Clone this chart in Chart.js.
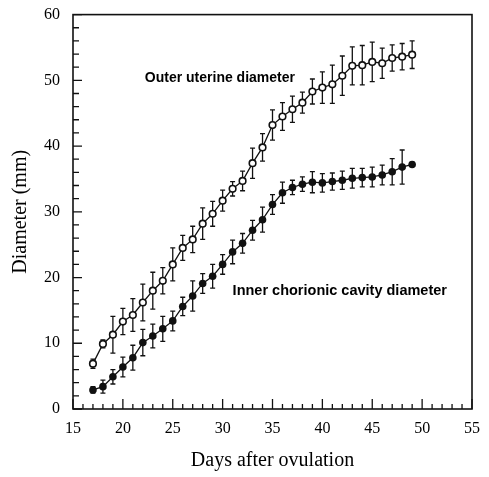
<!DOCTYPE html>
<html>
<head>
<meta charset="utf-8">
<script src="https://cdn.jsdelivr.net/npm/chart.js@4/dist/chart.umd.min.js"></script>
<style>
  html, body { margin: 0; padding: 0; background: #fff; }
  #wrap { width: 489px; height: 477px; position: relative; }
</style>
</head>
<body>
<div id="wrap"><canvas id="chart"></canvas></div>
<script>
// --- Data ---
const days = [17, 18, 19, 20, 21, 22, 23, 24, 25, 26, 27, 28, 29, 30, 31, 32, 33,
              34, 35, 36, 37, 38, 39, 40, 41, 42, 43, 44, 45, 46, 47, 48, 49];
const outerMean = [6.9, 9.9, 11.3, 13.3, 14.3, 16.2, 18.0, 19.5, 22.0, 24.5, 25.8, 28.2, 29.7, 31.7, 33.5, 34.7, 37.4,
                   39.8, 43.2, 44.5, 45.6, 46.6, 48.3, 48.9, 49.4, 50.7, 52.2, 52.3, 52.8, 52.6, 53.4, 53.6, 53.9];
const outerErr = [0.7, 0.6, 2.8, 2.0, 2.5, 2.8, 2.8, 2.0, 2.5, 1.9, 2.0, 2.4, 1.9, 1.6, 1.1, 1.5, 2.3,
                  2.1, 2.3, 2.1, 2.0, 1.6, 1.9, 2.4, 2.9, 3.0, 2.9, 3.0, 3.0, 2.3, 2.0, 2.0, 2.1];
const innerMean = [2.9, 3.4, 4.9, 6.4, 7.8, 10.1, 11.1, 12.2, 13.4, 15.6, 17.2, 19.1, 20.2, 22.0, 23.9, 25.2, 27.2,
                   28.8, 31.1, 32.9, 33.7, 34.2, 34.5, 34.4, 34.6, 34.8, 35.1, 35.2, 35.3, 35.6, 36.1, 36.8, 37.2];
const innerErr = [0.5, 1.0, 1.1, 1.5, 1.9, 2.0, 1.8, 1.9, 1.5, 1.4, 2.3, 1.5, 1.8, 1.5, 1.8, 1.5, 1.5,
                  1.9, 1.5, 1.6, 1.1, 1.1, 1.6, 1.4, 1.3, 1.4, 1.5, 1.4, 1.5, 1.5, 2.0, 2.6, 0.3];
const xTicks = [15, 20, 25, 30, 35, 40, 45, 50, 55];
const yTicks = [0, 10, 20, 30, 40, 50, 60];

const SERIF = '"Liberation Serif", "DejaVu Serif", serif';
const SANS = '"Liberation Sans", Arial, sans-serif';

// --- Plugin: error bars, inward ticks, frame, curve labels ---
const figurePlugin = {
    id: 'figure',
    beforeDatasetsDraw(chart) {
        const ctx = chart.ctx;
        const x = chart.scales.x, y = chart.scales.y;
        ctx.save();
        ctx.strokeStyle = '#111';
        ctx.lineWidth = 1.3;
        [[outerMean, outerErr], [innerMean, innerErr]].forEach(([mean, err]) => {
            days.forEach((d, i) => {
                const px = x.getPixelForValue(d);
                const top = y.getPixelForValue(mean[i] + err[i]);
                const bot = y.getPixelForValue(mean[i] - err[i]);
                ctx.beginPath();
                ctx.moveTo(px, top); ctx.lineTo(px, bot);
                ctx.moveTo(px - 2.5, top); ctx.lineTo(px + 2.5, top);
                ctx.moveTo(px - 2.5, bot); ctx.lineTo(px + 2.5, bot);
                ctx.stroke();
            });
        });
        ctx.restore();
    },
    afterDraw(chart) {
        const ctx = chart.ctx;
        const a = chart.chartArea;
        const x = chart.scales.x, y = chart.scales.y;
        ctx.save();
        ctx.strokeStyle = '#111';
        ctx.lineWidth = 1.6;
        ctx.strokeRect(a.left, a.top, a.right - a.left, a.bottom - a.top);
        ctx.lineWidth = 1.3;
        ctx.beginPath();
        for (let d = 15; d <= 55; d++) {
            const px = x.getPixelForValue(d);
            const len = d % 5 === 0 ? 10 : 5;
            ctx.moveTo(px, a.bottom); ctx.lineTo(px, a.bottom - len);
        }
        for (let v = 0; v <= 60; v += 2) {
            const py = y.getPixelForValue(v);
            const len = v % 10 === 0 ? 9 : 6;
            ctx.moveTo(a.left, py); ctx.lineTo(a.left + len, py);
        }
        ctx.stroke();

        ctx.fillStyle = '#000';
        ctx.font = 'bold 14px ' + SANS;
        ctx.textBaseline = 'middle';
        ctx.textAlign = 'left';
        ctx.fillText('Outer uterine diameter', x.getPixelForValue(22.2), y.getPixelForValue(50.4));
        ctx.font = 'bold 14.5px ' + SANS;
        ctx.fillText('Inner chorionic cavity diameter', x.getPixelForValue(31.0), y.getPixelForValue(18.0));
        ctx.restore();
    }
};

const ctx = document.getElementById('chart').getContext('2d');
new Chart(ctx, {
    type: 'line',
    data: {
        datasets: [{
            label: 'Outer uterine diameter',
            data: days.map((d, i) => ({ x: d, y: outerMean[i] })),
            borderColor: '#111',
            borderWidth: 1.3,
            pointRadius: 3.3,
            pointBorderWidth: 1.6,
            pointBackgroundColor: '#fff',
            pointBorderColor: '#111',
            tension: 0
        }, {
            label: 'Inner chorionic cavity diameter',
            data: days.map((d, i) => ({ x: d, y: innerMean[i] })),
            borderColor: '#111',
            borderWidth: 1.3,
            pointRadius: 3.8,
            pointBorderWidth: 0,
            pointBackgroundColor: '#111',
            tension: 0
        }]
    },
    options: {
        responsive: true,
        maintainAspectRatio: false,
        animation: false,
        layout: { padding: { left: 0, right: 17, top: 12, bottom: 0 } },
        plugins: { legend: { display: false }, tooltip: { enabled: false } },
        scales: {
            x: {
                type: 'linear',
                min: 15, max: 55,
                afterBuildTicks: s => { s.ticks = xTicks.map(v => ({ value: v })); },
                afterFit: s => { s.height = 68; },
                grid: { display: false },
                border: { display: false },
                ticks: { color: '#000', padding: 2, font: { family: SERIF, size: 16 } },
                title: { display: true, text: 'Days after ovulation', color: '#000',
                         font: { family: SERIF, size: 20 }, padding: { top: 20 } }
            },
            y: {
                min: 0, max: 60,
                afterBuildTicks: s => { s.ticks = yTicks.map(v => ({ value: v })); },
                afterFit: s => { s.width = 73; },
                grid: { display: false },
                border: { display: false },
                ticks: { color: '#000', padding: 5, font: { family: SERIF, size: 16 } },
                title: { display: true, text: 'Diameter (mm)', color: '#000',
                         font: { family: SERIF, size: 20 }, padding: { top: 9, bottom: 0 } }
            }
        }
    },
    plugins: [figurePlugin]
});
</script>
</body>
</html>
